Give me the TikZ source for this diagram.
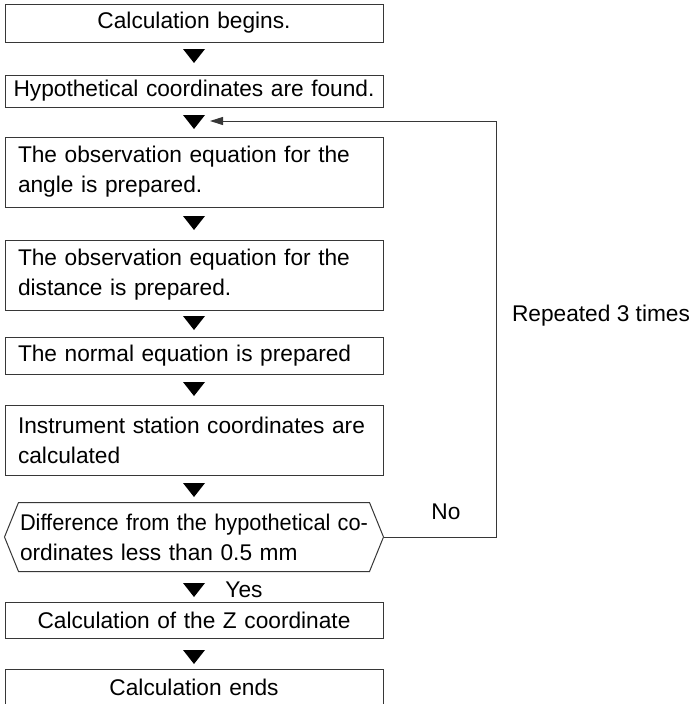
\documentclass[tikz,border=0pt]{standalone}
\usepackage{fontspec}
\setmainfont{Liberation Sans}
\usepackage{graphicx}
\usepackage{tikz}
\usetikzlibrary{positioning,calc}
\usetikzlibrary{arrows.meta}
\definecolor{LineGray}{RGB}{55,55,55}
\newcommand{\fullline}[1]{\makebox[\hsize][s]{#1}}
\newcommand{\tightline}[1]{\resizebox{\hsize}{\height}{#1}}
\tikzset{
  box/.style={draw=LineGray,line width=1pt,inner xsep=13pt,inner ysep=0pt,
    text width=352pt,align=left},
  hexline/.style={draw=LineGray,line width=1pt},
  flow/.style={draw=LineGray,line width=1pt,-{Triangle[length=13pt,width=8pt]}},
  tri/.style={fill=black},
}

\begin{document}
\begin{tikzpicture}[x=1pt,y=-1pt,font=\fontsize{22.7pt}{30pt}\selectfont]
\useasboundingbox (0,0) rectangle (694,704);
\coordinate (t1) at (194,56);
\coordinate (t2) at (194,122);
\coordinate (t3) at (194,223);
\coordinate (t4) at (194,323);
\coordinate (t5) at (194,389);
\coordinate (t6) at (194,490);
\coordinate (t7) at (194,590);
\coordinate (t8) at (194,657);
\coordinate (turn) at (496,121);
\coordinate (tip) at (210,121);
\node[box,align=center,minimum height=38pt] (begin) at (194,23) {Calculation begins.};
\node[box,align=center,minimum height=32pt,text width=364pt,inner xsep=7pt] (guess) at (194,91) {Hypothetical coordinates are found.};
\node[box,minimum height=70pt] (angle) at (194,172) {\fullline{The observation equation for the}\\angle is prepared.};
\node[box,minimum height=70pt] (dist) at (194,275) {\fullline{The observation equation for the}\\distance is prepared.};
\node[box,minimum height=37pt] (normal) at (194,355.5) {The normal equation is prepared};
\node[box,minimum height=70pt] (station) at (194,440) {\fullline{Instrument station coordinates are}\\calculated};
\node[box,draw=none,minimum height=68pt,text width=348pt,inner xsep=15pt] (diff) at (194,537) {\tightline{Difference from the hypothetical co-}\\ordinates less than 0.5 mm};
\node[box,align=center,minimum height=36pt] (zcoord) at (194,620) {Calculation of the Z coordinate};
\node[box,align=center,minimum height=36pt] (finish) at (194,687) {Calculation ends};
% decision outline
\draw[hexline] (diff.west) -- ($(diff.north west)+(14,0)$) -- ($(diff.north east)+(-14,0)$)
  -- (diff.east) -- ($(diff.south east)+(-14,0)$) -- ($(diff.south west)+(14,0)$) -- cycle;
% arrow heads between the steps
\fill[tri] (t1) +(-11,-7) -- +(11,-7) -- +(0,7) -- cycle;
\fill[tri] (t2) +(-11,-7) -- +(11,-7) -- +(0,7) -- cycle;
\fill[tri] (t3) +(-11,-7) -- +(11,-7) -- +(0,7) -- cycle;
\fill[tri] (t4) +(-11,-7) -- +(11,-7) -- +(0,7) -- cycle;
\fill[tri] (t5) +(-11,-7) -- +(11,-7) -- +(0,7) -- cycle;
\fill[tri] (t6) +(-11,-7) -- +(11,-7) -- +(0,7) -- cycle;
\fill[tri] (t7) +(-11,-7) -- +(11,-7) -- +(0,7) -- cycle;
\fill[tri] (t8) +(-11,-7) -- +(11,-7) -- +(0,7) -- cycle;
% loop back
\draw[flow] (diff.east) -| (turn) -- (tip);
\node[anchor=base] (no) at (446,519) {No};
\node[anchor=base] (yes) at (244,597) {Yes};
\node[anchor=base] (repeat) at (601,321) {Repeated 3 times};
\end{tikzpicture}
\end{document}
